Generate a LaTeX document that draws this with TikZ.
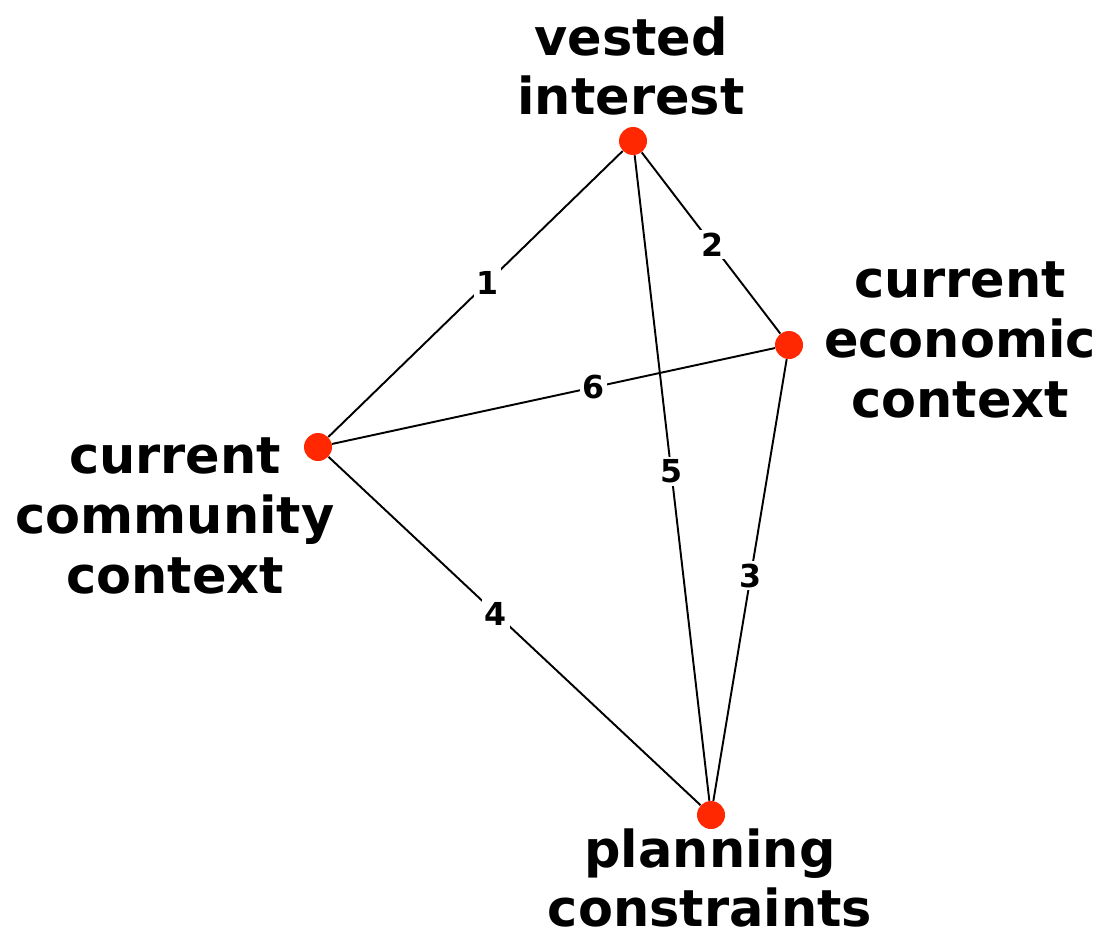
\documentclass[tikz,border=0pt]{standalone}
\usepackage{fontspec}
\setmainfont{DejaVu Sans}
\definecolor{dotred}{RGB}{255,40,0}
\begin{document}
\begin{tikzpicture}
\tikzset{pastille/.style={circle, fill=dotred, inner sep=0pt, minimum size=0.56cm},
  titre/.style={font=\bfseries\fontsize{29}{34}\selectfont, align=center, inner sep=0pt},
  num/.style={font=\bfseries\fontsize{18}{20}\selectfont, fill=white, inner sep=1.5pt}}
\useasboundingbox (0, 0) rectangle (22.12, -18.74);
\node[pastille] (V1) at (12.66, -2.82) {};
\node[pastille] (V2) at (15.78, -6.90) {};
\node[pastille] (V3) at (6.36, -8.94) {};
\node[pastille] (V4) at (14.22, -16.30) {};
\node[titre] (T1) at (12.62, -1.32) {vested\\interest};
\node[titre] (T2) at (19.20, -6.80) {current\\economic\\context};
\node[titre] (T3) at (3.50, -10.32) {current\\community\\context};
\node[titre] (T4) at (14.20, -17.56) {planning\\constraints};
\draw[line width=1.1pt] (V3) -- node[num, pos=0.54] {1} (V1);
\draw[line width=1.1pt] (V1) -- node[num, pos=0.51] {2} (V2);
\draw[line width=1.1pt] (V2) -- node[num, pos=0.49] {3} (V4);
\draw[line width=1.1pt] (V3) -- node[num, pos=0.45] {4} (V4);
\draw[line width=1.1pt] (V1) -- node[num, pos=0.49] {5} (V4);
\draw[line width=1.1pt] (V3) -- node[num, pos=0.59] {6} (V2);
\end{tikzpicture}
\end{document}
